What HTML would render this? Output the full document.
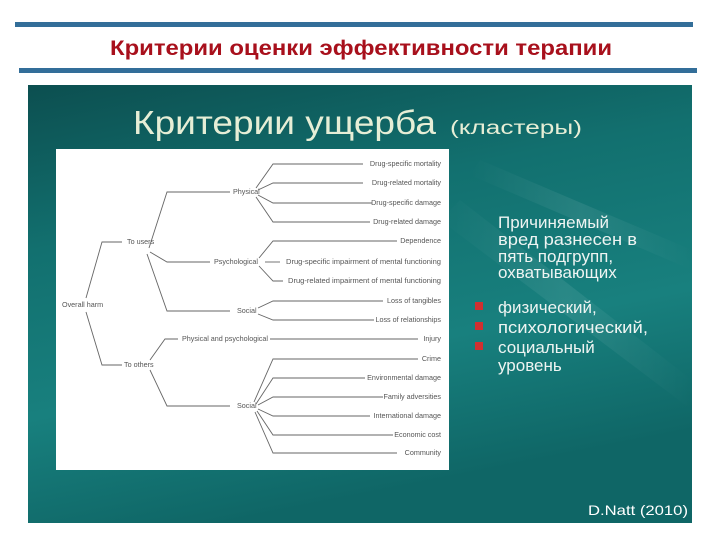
<!DOCTYPE html>
<html><head><meta charset="utf-8"><style>
html,body{margin:0;padding:0;background:#fff;width:720px;height:540px;overflow:hidden}
svg{display:block}
</style></head><body>
<svg width="720" height="540" viewBox="0 0 720 540" xmlns="http://www.w3.org/2000/svg">
<defs>
<linearGradient id="bg" x1="0" y1="0" x2="0.3" y2="1">
<stop offset="0" stop-color="#0c4f50"/>
<stop offset="0.35" stop-color="#12706f"/>
<stop offset="0.7" stop-color="#18807e"/>
<stop offset="1" stop-color="#0f6666"/>
</linearGradient>
<linearGradient id="streak" x1="0" y1="0" x2="1" y2="0">
<stop offset="0" stop-color="#fff" stop-opacity="0"/>
<stop offset="0.5" stop-color="#fff" stop-opacity="0.08"/>
<stop offset="1" stop-color="#fff" stop-opacity="0"/>
</linearGradient>
</defs>
<rect x="15" y="22" width="678" height="5" fill="#336e99"/>
<rect x="19" y="68" width="678" height="5" fill="#336e99"/>
<text x="110" y="55" font-family="Liberation Sans, sans-serif" font-weight="bold" font-size="21" fill="#a8101c" textLength="502" lengthAdjust="spacingAndGlyphs">Критерии оценки эффективности терапии</text>
<rect x="28" y="85" width="664" height="438" fill="url(#bg)"/>
<polygon points="460,200 692,380 692,410 440,220" fill="url(#streak)"/>
<polygon points="480,160 692,250 692,270 470,175" fill="url(#streak)"/>
<text x="133" y="134" font-family="Liberation Sans, sans-serif" font-size="33" fill="#e6eed6" textLength="303" lengthAdjust="spacingAndGlyphs">Критерии ущерба</text>
<text x="450" y="134" font-family="Liberation Sans, sans-serif" font-size="19" fill="#e6eed6" textLength="132" lengthAdjust="spacingAndGlyphs">(кластеры)</text>
<rect x="56" y="149" width="393" height="321" fill="#fff"/>
<g stroke="#666" stroke-width="0.9" fill="none">
<polyline points="86,298 102,242 122,242"/>
<polyline points="86,312 102,365 122,365"/>
<polyline points="149,248 167,192 230,192"/>
<polyline points="150,252 167,262 210,262"/>
<polyline points="147,254 167,311 230,311"/>
<polyline points="256,188 273,164 363,164"/>
<polyline points="258,190 273,183 363,183"/>
<polyline points="258,195 273,203 372,203"/>
<polyline points="256,197 273,222 370,222"/>
<polyline points="259,258 273,241 397,241"/>
<line x1="265" y1="262" x2="280" y2="262"/>
<polyline points="259,266 273,281 283,281"/>
<polyline points="258,308 273,301 383,301"/>
<polyline points="258,314 273,320 374,320"/>
<polyline points="150,360 165,339 178,339"/>
<line x1="270" y1="339" x2="418" y2="339"/>
<polyline points="150,370 167,406 230,406"/>
<polyline points="254,402 273,359 418,359"/>
<polyline points="256,404 273,378 365,378"/>
<polyline points="258,405 273,397 383,397"/>
<polyline points="258,409 273,416 370,416"/>
<polyline points="257,411 273,435 393,435"/>
<polyline points="255,412 273,453 397,453"/>
</g>
<g font-family="Liberation Sans, sans-serif" font-size="7.2" fill="#555">
<text x="62" y="307">Overall harm</text>
<text x="127" y="244">To users</text>
<text x="124" y="367">To others</text>
<text x="233" y="194">Physical</text>
<text x="214" y="264">Psychological</text>
<text x="237" y="313">Social</text>
<text x="182" y="341" textLength="86" lengthAdjust="spacingAndGlyphs">Physical and psychological</text>
<text x="237" y="408">Social</text>
<g text-anchor="end">
<text x="441" y="166">Drug-specific mortality</text>
<text x="441" y="185">Drug-related mortality</text>
<text x="441" y="205">Drug-specific damage</text>
<text x="441" y="224">Drug-related damage</text>
<text x="441" y="243">Dependence</text>
<text x="441" y="264" textLength="155" lengthAdjust="spacingAndGlyphs">Drug-specific impairment of mental functioning</text>
<text x="441" y="283" textLength="153" lengthAdjust="spacingAndGlyphs">Drug-related impairment of mental functioning</text>
<text x="441" y="303">Loss of tangibles</text>
<text x="441" y="322">Loss of relationships</text>
<text x="441" y="341">Injury</text>
<text x="441" y="361">Crime</text>
<text x="441" y="380">Environmental damage</text>
<text x="441" y="399">Family adversities</text>
<text x="441" y="418">International damage</text>
<text x="441" y="437">Economic cost</text>
<text x="441" y="455">Community</text>
</g>
</g>
<g font-family="Liberation Sans, sans-serif" font-size="17" fill="#eef4f2">
<text x="498" y="228">Причиняемый</text>
<text x="498" y="245" textLength="139" lengthAdjust="spacingAndGlyphs">вред разнесен в</text>
<text x="498" y="262">пять подгрупп,</text>
<text x="498" y="278">охватывающих</text>
<text x="498" y="313">физический,</text>
<text x="498" y="333" textLength="150" lengthAdjust="spacingAndGlyphs">психологический,</text>
<text x="498" y="353">социальный</text>
<text x="498" y="371">уровень</text>
</g>
<rect x="475" y="302" width="8" height="8" fill="#d03030"/>
<rect x="475" y="322" width="8" height="8" fill="#d03030"/>
<rect x="475" y="342" width="8" height="8" fill="#d03030"/>
<text x="588" y="515" font-family="Liberation Sans, sans-serif" font-size="14" fill="#fff" textLength="100" lengthAdjust="spacingAndGlyphs">D.Natt  (2010)</text>
</svg>
</body></html>
